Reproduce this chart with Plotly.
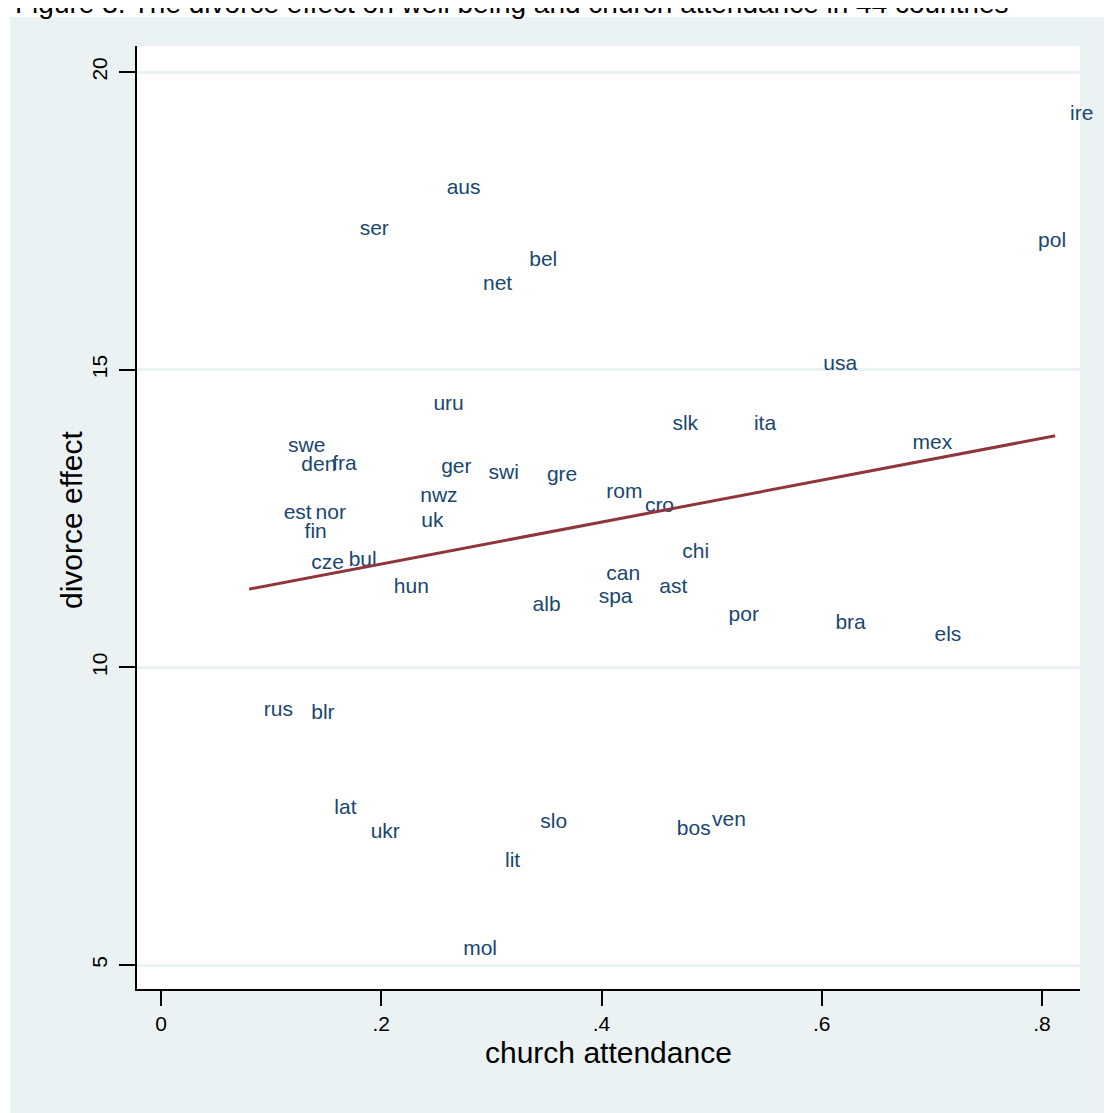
import numpy as np
import plotly.graph_objects as go

# ---- data ----
countries = ["ire", "aus", "ser", "bel", "net", "pol", "usa", "uru", "slk", "ita",
             "mex", "swe", "den", "fra", "ger", "swi", "gre", "rom", "cro", "nwz",
             "est", "nor", "uk", "fin", "chi", "cze", "bul", "can", "hun", "ast",
             "spa", "alb", "por", "bra", "els", "rus", "blr", "lat", "ukr", "slo",
             "bos", "ven", "lit", "mol"]
church_attendance = [0.812, 0.246, 0.167, 0.321, 0.279, 0.783, 0.588, 0.234, 0.451, 0.525,
                     0.669, 0.102, 0.114, 0.142, 0.241, 0.284, 0.337, 0.391, 0.426, 0.222,
                     0.098, 0.127, 0.223, 0.117, 0.460, 0.123, 0.157, 0.391, 0.198, 0.439,
                     0.384, 0.324, 0.502, 0.599, 0.689, 0.080, 0.123, 0.144, 0.177, 0.331,
                     0.455, 0.487, 0.299, 0.261]
divorce_effect = [19.28, 18.04, 17.35, 16.83, 16.43, 17.15, 15.08, 14.41, 14.07, 14.07,
                  13.75, 13.70, 13.39, 13.40, 13.35, 13.25, 13.22, 12.93, 12.70, 12.86,
                  12.58, 12.58, 12.44, 12.26, 11.92, 11.74, 11.79, 11.55, 11.34, 11.34,
                  11.17, 11.03, 10.87, 10.73, 10.53, 9.27, 9.22, 7.62, 7.22, 7.39,
                  7.27, 7.42, 6.73, 5.25]

x_tick_values = [0, 0.2, 0.4, 0.6, 0.8]
x_tick_labels = ["0", ".2", ".4", ".6", ".8"]
y_tick_values = [5, 10, 15, 20]
y_tick_labels = ["5", "10", "15", "20"]

title_text = "Figure 3. The divorce effect on well being and church attendance in 44 countries"
x_title = "church attendance"
y_title = "divorce effect"

# ---- linear fit (lfit) from the data ----
xa = np.array(church_attendance)
ya = np.array(divorce_effect)
slope, intercept = np.polyfit(xa, ya, 1)
fit_x = [xa.min(), xa.max()]
fit_y = [intercept + slope * v for v in fit_x]

FONT = "Liberation Sans, Arial, Helvetica, sans-serif"
LABEL_COLOR = "#1A476F"
LINE_COLOR = "#90353B"
BG = "#EAF2F3"

W, H = 1104, 1105
ML, MR, MT, MB = 129, 32, 38, 124
pw, ph = W - ML - MR, H - MT - MB

def px_to_paper_x(px):
    return (px - ML) / pw

def px_to_paper_y(py):
    return (H - MB - py) / ph

fig = go.Figure()

fig.add_trace(go.Scatter(
    x=church_attendance, y=divorce_effect, text=countries,
    mode="markers+text", textposition="middle right",
    marker=dict(size=22, color="rgba(0,0,0,0)"),
    textfont=dict(family=FONT, size=21, color=LABEL_COLOR),
    cliponaxis=False, showlegend=False, hoverinfo="text+x+y",
))

fig.add_trace(go.Scatter(
    x=fit_x, y=fit_y, mode="lines",
    line=dict(color=LINE_COLOR, width=3),
    showlegend=False, hoverinfo="skip",
))

fig.update_layout(
    width=W, height=H,
    margin=dict(l=ML, r=MR, t=MT, b=MB, pad=0),
    paper_bgcolor=BG, plot_bgcolor="white",
    font=dict(family=FONT, color="black"),
    showlegend=False,
    shapes=[
        dict(type="rect", xref="paper", yref="paper", layer="below",
             x0=px_to_paper_x(-5), x1=px_to_paper_x(W + 5),
             y0=px_to_paper_y(9), y1=px_to_paper_y(-5),
             fillcolor="white", line=dict(width=0)),
        dict(type="rect", xref="paper", yref="paper", layer="below",
             x0=px_to_paper_x(-5), x1=px_to_paper_x(2),
             y0=px_to_paper_y(H + 5), y1=px_to_paper_y(-5),
             fillcolor="white", line=dict(width=0)),
    ],
    annotations=[
        dict(text=title_text, xref="paper", yref="paper",
             x=px_to_paper_x(5), y=px_to_paper_y(13.5),
             xanchor="left", yanchor="bottom", showarrow=False,
             font=dict(family=FONT, size=28, color="black")),
        dict(text=x_title, xref="paper", yref="paper",
             x=px_to_paper_x(600), y=px_to_paper_y(1044),
             xanchor="center", yanchor="middle", showarrow=False,
             font=dict(family=FONT, size=30, color="black")),
        dict(text=y_title, xref="paper", yref="paper", textangle=-90,
             x=px_to_paper_x(64), y=px_to_paper_y(512),
             xanchor="center", yanchor="middle", showarrow=False,
             font=dict(family=FONT, size=30, color="black")),
    ],
)

fig.update_xaxes(
    range=[-0.0218, 0.8345],
    tickvals=x_tick_values, ticktext=x_tick_labels,
    ticks="outside", ticklen=15, tickwidth=1.5, tickcolor="black",
    tickfont=dict(family=FONT, size=21, color="black"),
    showline=True, linecolor="black", linewidth=1.5,
    showgrid=False, zeroline=False,
)
fig.update_yaxes(
    range=[4.597, 20.437],
    tickvals=y_tick_values, ticktext=y_tick_labels, tickangle=-90,
    ticks="outside", ticklen=16, tickwidth=1.5, tickcolor="black",
    ticklabelstandoff=4,
    tickfont=dict(family=FONT, size=21, color="black"),
    showline=True, linecolor="black", linewidth=1.5,
    showgrid=True, gridcolor=BG, gridwidth=2.5, zeroline=False,
)

fig.write_html("out.html")
